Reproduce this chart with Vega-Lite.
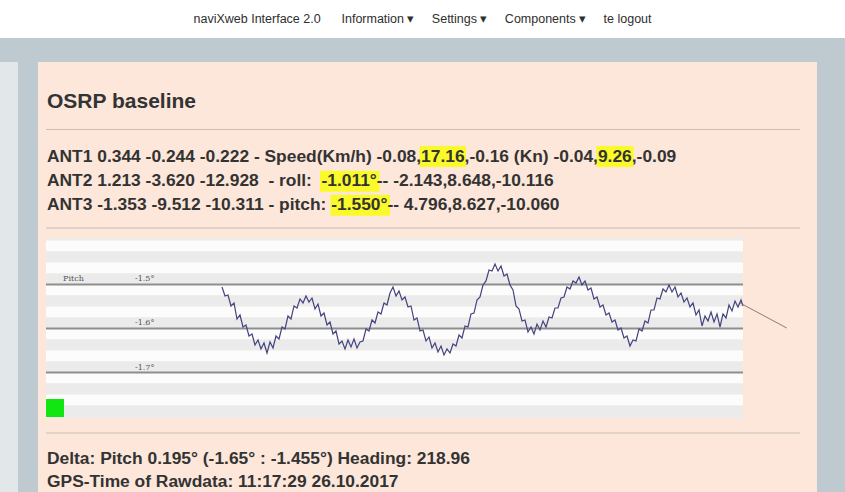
{
  "$schema": "https://vega.github.io/schema/vega-lite/v6.json",
  "background": "#bfc9d0",
  "padding": 0,
  "spacing": 24,
  "config": {"view": {"stroke": null}},
  "datasets": {
    "nav": [{"menu": "naviXweb Interface 2.0 \u00a0\u00a0\u00a0\u00a0 Information ▾ \u00a0\u00a0\u00a0 Settings ▾ \u00a0\u00a0\u00a0 Components ▾ \u00a0\u00a0\u00a0 te logout"}],
    "heading": [{"row": 1.873, "text": "OSRP baseline"}],
    "lines": [
      {"row": 4.086, "text": "ANT1 0.344 -0.244 -0.222 - Speed(Km/h) -0.08,17.16,-0.16 (Kn) -0.04,9.26,-0.09"},
      {"row": 5.102, "text": "ANT2 1.213 -3.620 -12.928\u00a0 - roll:\u00a0 -1.011°-- -2.143,8.648,-10.116"},
      {"row": 6.086, "text": "ANT3 -1.353 -9.512 -10.311 - pitch: -1.550°-- 4.796,8.627,-10.060"},
      {"row": 16.49, "text": "Delta: Pitch 0.195° (-1.65° : -1.455°) Heading: 218.96"},
      {"row": 17.42, "text": "GPS-Time of Rawdata: 11:17:29 26.10.2017"}
    ],
    "highlights": [
      {"value": "17.16", "from": 37.35, "to": 42.0, "top": 3.443, "bottom": 4.303},
      {"value": "9.26", "from": 55.05, "to": 58.75, "top": 3.443, "bottom": 4.303},
      {"value": "-1.011°", "from": 27.4, "to": 33.35, "top": 4.459, "bottom": 5.32},
      {"value": "-1.550°", "from": 28.45, "to": 34.4, "top": 5.443, "bottom": 6.303}
    ],
    "separators": [{"row": 2.766}, {"row": 6.803}, {"row": 15.205}],
    "bands": [
      {"top": -1.3943, "bottom": -1.4, "shade": "a"},
      {"top": -1.4, "bottom": -1.425, "shade": "b"},
      {"top": -1.425, "bottom": -1.45, "shade": "a"},
      {"top": -1.45, "bottom": -1.475, "shade": "b"},
      {"top": -1.475, "bottom": -1.5, "shade": "a"},
      {"top": -1.5, "bottom": -1.525, "shade": "b"},
      {"top": -1.525, "bottom": -1.55, "shade": "a"},
      {"top": -1.55, "bottom": -1.575, "shade": "b"},
      {"top": -1.575, "bottom": -1.6, "shade": "a"},
      {"top": -1.6, "bottom": -1.625, "shade": "b"},
      {"top": -1.625, "bottom": -1.65, "shade": "a"},
      {"top": -1.65, "bottom": -1.675, "shade": "b"},
      {"top": -1.675, "bottom": -1.7, "shade": "a"},
      {"top": -1.7, "bottom": -1.725, "shade": "b"},
      {"top": -1.725, "bottom": -1.75, "shade": "a"},
      {"top": -1.75, "bottom": -1.775, "shade": "b"},
      {"top": -1.775, "bottom": -1.8034, "shade": "a"}
    ],
    "grid": [
      {"level": -1.5, "label": "-1.5°"},
      {"level": -1.6, "label": "-1.6°"},
      {"level": -1.7, "label": "-1.7°"}
    ],
    "seriesLabel": [{"series": "Pitch", "level": -1.5}],
    "status": [{"t": 0.9, "v": -1.7807}],
    "tail": [{"t": 69.4, "v": -1.542}, {"t": 74.07, "v": -1.5988}],
    "pitch": [
      {"t":17.6,"v":-1.5057},{"t":17.9,"v":-1.5261},{"t":18.2,"v":-1.5238},{"t":18.5,"v":-1.5488},{"t":18.8,"v":-1.5420},
      {"t":19.1,"v":-1.5784},{"t":19.4,"v":-1.5693},{"t":19.7,"v":-1.5966},{"t":20.0,"v":-1.5920},{"t":20.3,"v":-1.6170},
      {"t":20.6,"v":-1.6125},{"t":20.9,"v":-1.6375},{"t":21.2,"v":-1.6261},{"t":21.5,"v":-1.6466},{"t":21.8,"v":-1.6329},
      {"t":22.1,"v":-1.6557},{"t":22.4,"v":-1.6307},{"t":22.7,"v":-1.6443},{"t":23.0,"v":-1.6170},{"t":23.3,"v":-1.6238},
      {"t":23.6,"v":-1.5966},{"t":23.9,"v":-1.6011},{"t":24.2,"v":-1.5716},{"t":24.5,"v":-1.5784},{"t":24.8,"v":-1.5488},
      {"t":25.1,"v":-1.5534},{"t":25.4,"v":-1.5329},{"t":25.7,"v":-1.5420},{"t":26.0,"v":-1.5261},{"t":26.3,"v":-1.5398},
      {"t":26.6,"v":-1.5307},{"t":26.9,"v":-1.5557},{"t":27.2,"v":-1.5443},{"t":27.5,"v":-1.5716},{"t":27.8,"v":-1.5648},
      {"t":28.1,"v":-1.5920},{"t":28.4,"v":-1.5852},{"t":28.7,"v":-1.6125},{"t":29.0,"v":-1.6057},{"t":29.3,"v":-1.6352},
      {"t":29.6,"v":-1.6284},{"t":29.9,"v":-1.6466},{"t":30.2,"v":-1.6261},{"t":30.5,"v":-1.6420},{"t":30.8,"v":-1.6238},
      {"t":31.1,"v":-1.6443},{"t":31.4,"v":-1.6307},{"t":31.7,"v":-1.6284},{"t":32.0,"v":-1.6011},{"t":32.3,"v":-1.6057},
      {"t":32.6,"v":-1.5807},{"t":32.9,"v":-1.5875},{"t":33.2,"v":-1.5625},{"t":33.5,"v":-1.5670},{"t":33.8,"v":-1.5420},
      {"t":34.1,"v":-1.5466},{"t":34.4,"v":-1.5193},{"t":34.7,"v":-1.5057},{"t":35.0,"v":-1.5261},{"t":35.3,"v":-1.5148},
      {"t":35.6,"v":-1.5352},{"t":35.9,"v":-1.5284},{"t":36.2,"v":-1.5511},{"t":36.5,"v":-1.5488},{"t":36.8,"v":-1.5807},
      {"t":37.1,"v":-1.5761},{"t":37.4,"v":-1.6057},{"t":37.7,"v":-1.6034},{"t":38.0,"v":-1.6284},{"t":38.3,"v":-1.6193},
      {"t":38.6,"v":-1.6443},{"t":38.9,"v":-1.6329},{"t":39.2,"v":-1.6534},{"t":39.5,"v":-1.6398},{"t":39.8,"v":-1.6602},
      {"t":40.1,"v":-1.6466},{"t":40.4,"v":-1.6557},{"t":40.7,"v":-1.6352},{"t":41.0,"v":-1.6398},{"t":41.3,"v":-1.6148},
      {"t":41.6,"v":-1.6216},{"t":41.9,"v":-1.5943},{"t":42.2,"v":-1.5966},{"t":42.5,"v":-1.5670},{"t":42.8,"v":-1.5648},
      {"t":43.1,"v":-1.5352},{"t":43.4,"v":-1.5284},{"t":43.7,"v":-1.5011},{"t":44.0,"v":-1.4920},{"t":44.3,"v":-1.4670},
      {"t":44.6,"v":-1.4693},{"t":44.9,"v":-1.4534},{"t":45.2,"v":-1.4693},{"t":45.5,"v":-1.4579},{"t":45.8,"v":-1.4807},
      {"t":46.1,"v":-1.4761},{"t":46.4,"v":-1.5011},{"t":46.7,"v":-1.5125},{"t":47.0,"v":-1.5488},{"t":47.3,"v":-1.5557},
      {"t":47.6,"v":-1.5829},{"t":47.9,"v":-1.5807},{"t":48.2,"v":-1.6079},{"t":48.5,"v":-1.5966},{"t":48.8,"v":-1.6125},
      {"t":49.1,"v":-1.5898},{"t":49.4,"v":-1.6034},{"t":49.7,"v":-1.5829},{"t":50.0,"v":-1.5966},{"t":50.3,"v":-1.5738},
      {"t":50.6,"v":-1.5761},{"t":50.9,"v":-1.5534},{"t":51.2,"v":-1.5534},{"t":51.5,"v":-1.5307},{"t":51.8,"v":-1.5284},
      {"t":52.1,"v":-1.5057},{"t":52.4,"v":-1.5102},{"t":52.7,"v":-1.4920},{"t":53.0,"v":-1.4966},{"t":53.3,"v":-1.4829},
      {"t":53.6,"v":-1.5011},{"t":53.9,"v":-1.4920},{"t":54.2,"v":-1.5125},{"t":54.5,"v":-1.5079},{"t":54.8,"v":-1.5329},
      {"t":55.1,"v":-1.5284},{"t":55.4,"v":-1.5511},{"t":55.7,"v":-1.5466},{"t":56.0,"v":-1.5693},{"t":56.3,"v":-1.5648},
      {"t":56.6,"v":-1.5852},{"t":56.9,"v":-1.5807},{"t":57.2,"v":-1.6034},{"t":57.5,"v":-1.5988},{"t":57.8,"v":-1.6216},
      {"t":58.1,"v":-1.6170},{"t":58.4,"v":-1.6398},{"t":58.7,"v":-1.6261},{"t":59.0,"v":-1.6284},{"t":59.3,"v":-1.6011},
      {"t":59.6,"v":-1.6057},{"t":59.9,"v":-1.5829},{"t":60.2,"v":-1.5875},{"t":60.5,"v":-1.5579},{"t":60.8,"v":-1.5579},
      {"t":61.1,"v":-1.5307},{"t":61.4,"v":-1.5329},{"t":61.7,"v":-1.5102},{"t":62.0,"v":-1.5170},{"t":62.3,"v":-1.5011},
      {"t":62.6,"v":-1.5170},{"t":62.9,"v":-1.5057},{"t":63.2,"v":-1.5284},{"t":63.5,"v":-1.5193},{"t":63.8,"v":-1.5398},
      {"t":64.1,"v":-1.5307},{"t":64.4,"v":-1.5511},{"t":64.7,"v":-1.5420},{"t":65.0,"v":-1.5693},{"t":65.3,"v":-1.5579},
      {"t":65.6,"v":-1.5943},{"t":65.9,"v":-1.5716},{"t":66.2,"v":-1.5829},{"t":66.5,"v":-1.5625},{"t":66.8,"v":-1.5852},
      {"t":67.1,"v":-1.5670},{"t":67.4,"v":-1.5966},{"t":67.7,"v":-1.5670},{"t":68.0,"v":-1.5761},{"t":68.3,"v":-1.5466},
      {"t":68.6,"v":-1.5602},{"t":68.9,"v":-1.5375},{"t":69.2,"v":-1.5511},{"t":69.5,"v":-1.5352},{"t":69.7,"v":-1.5488}
    ]
  },
  "vconcat": [
    {
      "width": 845,
      "height": 38,
      "view": {"fill": "#ffffff", "stroke": null},
      "data": {"name": "nav"},
      "mark": {"type": "text", "font": "Liberation Sans", "fontSize": 12.5, "color": "#2e2e2e"},
      "encoding": {"text": {"field": "menu", "type": "nominal"}}
    },
    {
      "spacing": 20,
      "hconcat": [
        {
          "width": 18,
          "height": 430,
          "view": {"fill": "#e2e7ea", "stroke": null},
          "data": {"values": []},
          "mark": "text",
          "encoding": {}
        },
        {
          "width": 779,
          "height": 430,
          "view": {"fill": "#fde7da", "stroke": null},
          "resolve": {"scale": {"y": "independent"}},
          "layer": [
            {
              "layer": [
                {
                  "data": {"name": "bands"},
                  "mark": {"type": "rect"},
                  "encoding": {
                    "x": {"datum": 0, "type": "quantitative", "scale": {"domain": [-0.8, 77.1], "nice": false, "zero": false}, "axis": null},
                    "x2": {"datum": 69.7},
                    "y": {"field": "top", "type": "quantitative", "scale": {"domain": [-1.97159, -0.99432], "nice": false, "zero": false}, "axis": null},
                    "y2": {"field": "bottom"},
                    "color": {"field": "shade", "type": "nominal", "scale": {"domain": ["a", "b"], "range": ["#ebebeb", "#fcfcfc"]}, "legend": null}
                  }
                },
                {
                  "data": {"name": "grid"},
                  "mark": {"type": "rule", "color": "#8e8e8e", "strokeWidth": 2},
                  "encoding": {
                    "x": {"datum": 0, "type": "quantitative", "axis": null},
                    "x2": {"datum": 69.7},
                    "y": {"field": "level", "type": "quantitative", "axis": null}
                  }
                },
                {
                  "data": {"name": "grid"},
                  "mark": {"type": "text", "font": "DejaVu Serif", "fontSize": 8, "color": "#555555", "align": "left", "baseline": "bottom", "dy": -1},
                  "encoding": {
                    "x": {"datum": 8.9, "type": "quantitative", "axis": null},
                    "y": {"field": "level", "type": "quantitative", "axis": null},
                    "text": {"field": "label", "type": "nominal"}
                  }
                },
                {
                  "data": {"name": "seriesLabel"},
                  "mark": {"type": "text", "font": "DejaVu Serif", "fontSize": 8, "color": "#555555", "align": "left", "baseline": "bottom", "dy": -1},
                  "encoding": {
                    "x": {"datum": 1.7, "type": "quantitative", "axis": null},
                    "y": {"field": "level", "type": "quantitative", "axis": null},
                    "text": {"field": "series", "type": "nominal"}
                  }
                },
                {
                  "data": {"name": "pitch"},
                  "mark": {"type": "line", "color": "#43447f", "strokeWidth": 1.2},
                  "encoding": {
                    "x": {"field": "t", "type": "quantitative", "axis": null},
                    "y": {"field": "v", "type": "quantitative", "axis": null}
                  }
                },
                {
                  "data": {"name": "tail"},
                  "mark": {"type": "line", "color": "#8b7d74", "strokeWidth": 1},
                  "encoding": {
                    "x": {"field": "t", "type": "quantitative", "axis": null},
                    "y": {"field": "v", "type": "quantitative", "axis": null}
                  }
                },
                {
                  "data": {"name": "status"},
                  "mark": {"type": "square", "filled": true, "size": 324, "opacity": 1, "color": "#12e612"},
                  "encoding": {
                    "x": {"field": "t", "type": "quantitative", "axis": null},
                    "y": {"field": "v", "type": "quantitative", "axis": null}
                  }
                }
              ]
            },
            {
              "layer": [
                {
                  "data": {"name": "separators"},
                  "mark": {"type": "rule", "color": "#c9bdb5", "strokeWidth": 1},
                  "encoding": {
                    "x": {"datum": 0, "type": "quantitative", "axis": null},
                    "x2": {"datum": 75.4},
                    "y": {"field": "row", "type": "quantitative", "scale": {"domain": [0, 17.623], "reverse": true, "nice": false, "zero": false}, "axis": null}
                  }
                },
                {
                  "data": {"name": "highlights"},
                  "mark": {"type": "rect", "color": "#fafa2a"},
                  "encoding": {
                    "x": {"field": "from", "type": "quantitative", "axis": null},
                    "x2": {"field": "to"},
                    "y": {"field": "top", "type": "quantitative", "axis": null},
                    "y2": {"field": "bottom"}
                  }
                },
                {
                  "data": {"name": "heading"},
                  "mark": {"type": "text", "font": "Liberation Sans", "fontSize": 21, "fontWeight": "bold", "color": "#333333", "align": "left", "baseline": "alphabetic", "dx": 1},
                  "encoding": {
                    "x": {"datum": 0, "type": "quantitative", "axis": null},
                    "y": {"field": "row", "type": "quantitative", "axis": null},
                    "text": {"field": "text", "type": "nominal"}
                  }
                },
                {
                  "data": {"name": "lines"},
                  "mark": {"type": "text", "font": "Liberation Sans", "fontSize": 17.4, "fontWeight": "bold", "color": "#333333", "align": "left", "baseline": "alphabetic", "dx": 1},
                  "encoding": {
                    "x": {"datum": 0, "type": "quantitative", "axis": null},
                    "y": {"field": "row", "type": "quantitative", "axis": null},
                    "text": {"field": "text", "type": "nominal"}
                  }
                }
              ]
            }
          ]
        }
      ]
    }
  ]
}
